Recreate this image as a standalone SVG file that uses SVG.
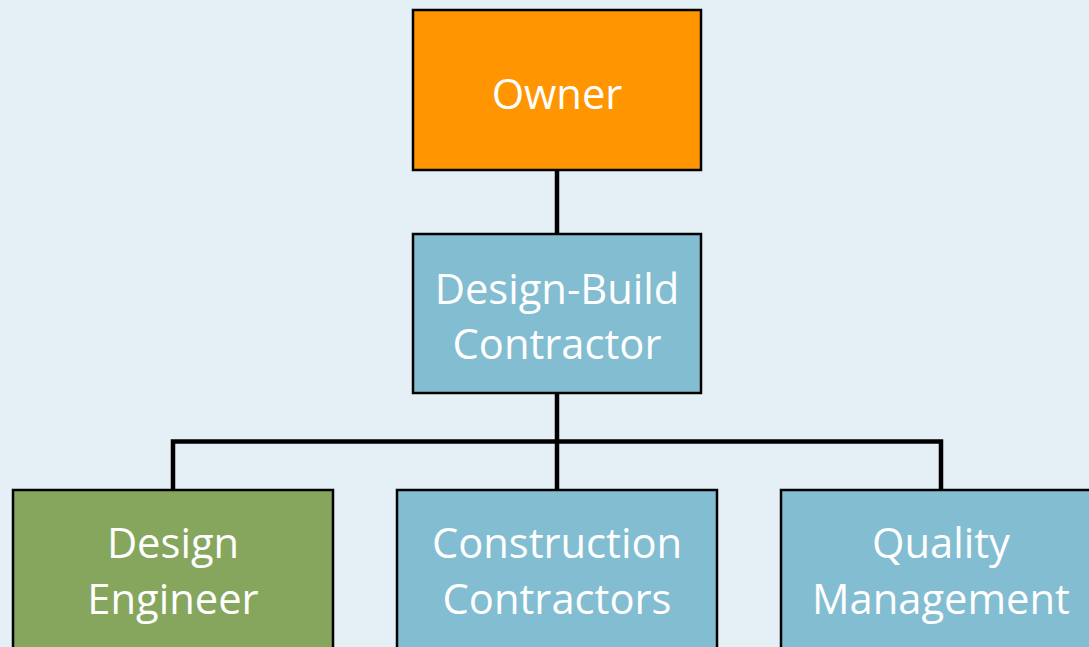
<svg xmlns="http://www.w3.org/2000/svg" width="1089" height="647" viewBox="0 0 1089 647">
<style>
.box{stroke:#000;stroke-width:2.5}
.lbl{font-family:"Open Sans","Noto Sans",sans-serif;font-size:41.7px;fill:#fff;text-anchor:middle}
.conn{stroke:#000;stroke-width:4.5;fill:none}
</style>
<rect x="0" y="0" width="1089" height="647" fill="#E5F0F6"/>
<g id="connectors">
<line class="conn" x1="557" y1="170" x2="557" y2="234"/>
<line class="conn" x1="557" y1="393" x2="557" y2="490"/>
<polyline class="conn" points="173,490 173,441.5 941,441.5 941,490"/>
</g>
<g id="owner">
<rect class="box" x="413" y="10" width="288" height="160" fill="#FF9500"/>
<text class="lbl" x="557" y="109">Owner</text>
</g>
<g id="design-build">
<rect class="box" x="413" y="234" width="288" height="159" fill="#82BDD2"/>
<text class="lbl" x="557" y="304">Design-Build</text>
<text class="lbl" x="557" y="359">Contractor</text>
</g>
<g id="design-engineer">
<rect class="box" x="13" y="490" width="320" height="180" fill="#86A65E"/>
<text class="lbl" x="173" y="558">Design</text>
<text class="lbl" x="173" y="614">Engineer</text>
</g>
<g id="construction">
<rect class="box" x="397" y="490" width="320" height="180" fill="#82BDD2"/>
<text class="lbl" x="557" y="558">Construction</text>
<text class="lbl" x="557" y="614">Contractors</text>
</g>
<g id="quality">
<rect class="box" x="781" y="490" width="320" height="180" fill="#82BDD2"/>
<text class="lbl" x="941" y="558">Quality</text>
<text class="lbl" x="941" y="614">Management</text>
</g>
</svg>
